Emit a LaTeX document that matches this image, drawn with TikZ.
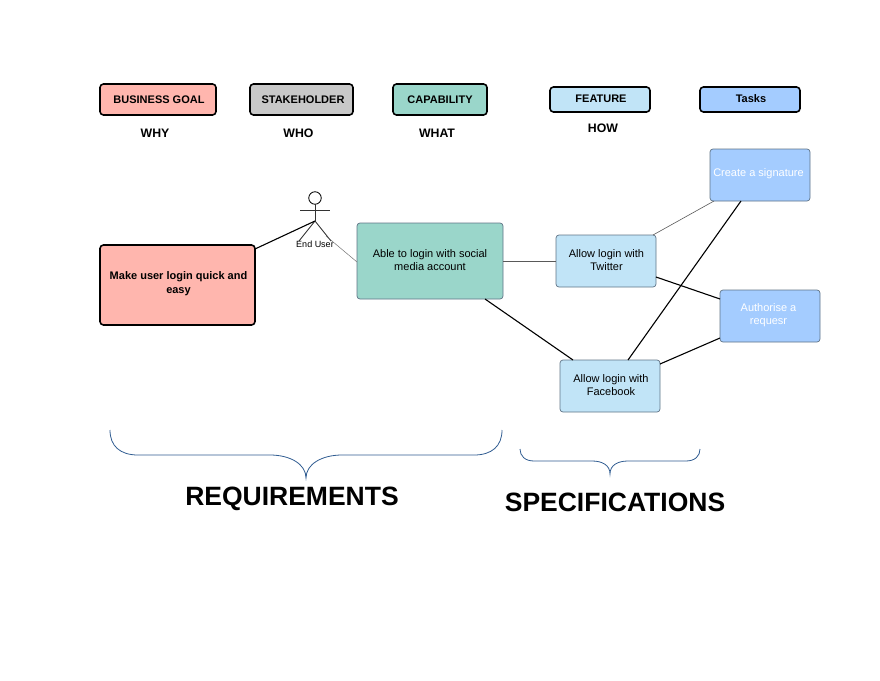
\documentclass[tikz,border=0pt]{standalone}
\usepackage{fontspec}
\setmainfont{Liberation Sans}
\usetikzlibrary{calc}
\definecolor{cpink}{HTML}{FFB6AE}
\definecolor{cgrey}{HTML}{C8C8C8}
\definecolor{cteal}{HTML}{9AD6CA}
\definecolor{clight}{HTML}{C1E4F7}
\definecolor{cblue}{HTML}{A4CCFF}
\definecolor{cedge}{HTML}{5F7486}
\definecolor{cbrace}{HTML}{2F5C91}
\tikzset{
  x=1pt,y=-1pt,
  every node/.style={inner sep=0pt,outer sep=0pt,align=center,font=\fontsize{11}{13.5}\selectfont},
  legendbox/.style={draw=black,line width=1.6pt,rounded corners=3.5pt},
  boldtext/.style={font=\fontsize{11}{13.5}\selectfont\bfseries},
  captext/.style={font=\fontsize{12.3}{15}\selectfont\bfseries},
  itembox/.style={draw=cedge,line width=0.7pt,rounded corners=3pt},
  link/.style={draw=black,line width=1.1pt},
  faint/.style={draw=black!65,line width=0.6pt},
  curly/.style={draw=cbrace,line width=0.8pt},
  bigtext/.style={font=\fontsize{26.5}{30}\selectfont\bfseries}
}
\begin{document}
\begin{tikzpicture}
\useasboundingbox (0,0) rectangle (880,680);
% legend
\node[legendbox,fill=cpink,minimum width=116pt,minimum height=31pt] (lgoal) at (158,99.5) {};
\node[boldtext] (tgoal) at (159,99.5) {BUSINESS GOAL};
\node[legendbox,fill=cgrey,minimum width=103pt,minimum height=31pt] (lstake) at (301.5,99.5) {};
\node[boldtext] (tstake) at (303,99.5) {STAKEHOLDER};
\node[legendbox,fill=cteal,minimum width=94pt,minimum height=31pt] (lcap) at (440,99.5) {};
\node[boldtext] (tcap) at (440,99.5) {CAPABILITY};
\node[legendbox,fill=clight,minimum width=100pt,minimum height=25pt] (lfeat) at (600,99.5) {};
\node[boldtext] (tfeat) at (601,99) {FEATURE};
\node[legendbox,fill=cblue,minimum width=100pt,minimum height=25pt] (ltask) at (750,99.5) {};
\node[boldtext] (ttask) at (751,98.5) {Tasks};
% captions
\node[captext] (why) at (155,133) {WHY};
\node[captext] (who) at (298.5,133) {WHO};
\node[captext] (what) at (437,133) {WHAT};
\node[captext] (how) at (603,128.5) {HOW};
% diagram boxes
\node[legendbox,fill=cpink,minimum width=155pt,minimum height=80pt] (make) at (177.5,285) {};
\node[boldtext] (tmake) at (178.5,283.5) {Make user login quick and\\easy};
\node[itembox,fill=cteal,minimum width=146pt,minimum height=76pt] (able) at (430,261) {};
\node (table) at (430,260) {Able to login with social\\media account};
\node[itembox,fill=clight,minimum width=100pt,minimum height=52pt] (tw) at (606,261) {};
\node (ttw) at (606.5,260) {Allow login with\\Twitter};
\node[itembox,fill=clight,minimum width=100pt,minimum height=52pt] (fb) at (610,386) {};
\node (tfb) at (611,385) {Allow login with\\Facebook};
\node[itembox,fill=cblue,minimum width=100pt,minimum height=52pt] (sig) at (760,175) {};
\node[text=white] (tsig) at (758.5,173.5) {Create a signature};
\node[itembox,fill=cblue,minimum width=100pt,minimum height=52pt] (auth) at (770,316) {};
\node[text=white] (tauth) at (768.5,315) {Authorise a\\requesr};
% actor
\coordinate (hip) at (315,221);
\coordinate (footl) at (299,241);
\coordinate (footr) at (331,241);
\coordinate (arml) at (300,210);
\coordinate (armr) at (330,210);
\coordinate (legmid) at (326,236);
\node[draw=black,line width=0.8pt,circle,minimum size=12.5pt] (head) at (315,198) {};
\draw[line width=0.7pt,black!80] (head.south) -- (hip);
\draw[line width=0.7pt,black!80] (arml) -- (armr);
\draw[line width=0.8pt,black!85] (hip) -- (footl);
\draw[line width=0.8pt,black!85] (hip) -- (footr);
\node[font=\fontsize{9}{11}\selectfont] (enduser) at (315,244.5) {End User};
% connectors
\draw[link] ([yshift=-4pt]make.north east) -- (hip);
\draw[line width=0.5pt,black!55] (legmid) -- ([yshift=-1pt]able.west);
\draw[faint] (able.east) -- (tw.west);
\draw[link] ([xshift=-18pt]able.south east) -- ([xshift=13pt]fb.north west);
\draw[faint] ([xshift=-3pt]tw.north east) -- ([xshift=4pt]sig.south west);
\draw[link] ([yshift=10pt]tw.south east) -- ([yshift=-9pt]auth.north west);
\draw[link] ([yshift=-4pt]fb.north east) -- ([yshift=4pt]auth.south west);
\draw[link] ([xshift=-32pt]fb.north east) -- ([xshift=31pt]sig.south west);
% braces
\draw[curly] (110,430) .. controls (110,446) and (120,455) .. (138,455) -- (270,455) .. controls (290,455) and (306,464) .. (306,478) .. controls (306,464) and (322,455) .. (342,455) -- (474,455) .. controls (492,455) and (502,446) .. (502,430);
\draw[curly] (520,449) .. controls (520,456) and (525,461) .. (534,461) -- (592,461) .. controls (602,461) and (610,465) .. (610,474) .. controls (610,465) and (618,461) .. (628,461) -- (686,461) .. controls (695,461) and (700,456) .. (700,449);
\node[bigtext] (req) at (292,499) {REQUIREMENTS};
\node[bigtext] (spec) at (615,502.5) {SPECIFICATIONS};
\end{tikzpicture}
\end{document}
